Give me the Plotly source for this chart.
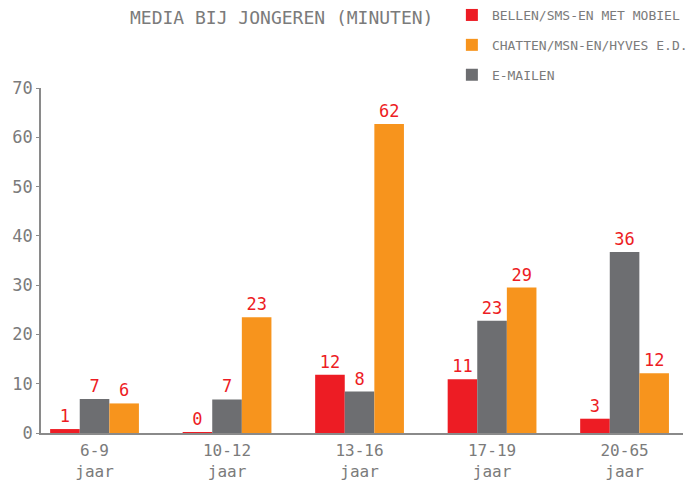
import plotly.graph_objects as go

categories = ["6-9<br>jaar", "10-12<br>jaar", "13-16<br>jaar", "17-19<br>jaar", "20-65<br>jaar"]
bellen = [0.8, 0.1, 11.8, 10.9, 2.9]
bellen_lbl = ["1", "0", "12", "11", "3"]
email = [6.9, 6.8, 8.4, 22.8, 36.7]
email_lbl = ["7", "7", "8", "23", "36"]
chatten = [6.0, 23.5, 62.7, 29.5, 12.1]
chatten_lbl = ["6", "23", "62", "29", "12"]
y_ticks = [0, 10, 20, 30, 40, 50, 60, 70]

RED = "#ed1c24"
ORANGE = "#f7941d"
GRAY = "#6d6e71"
TXT = "#7b7b7b"
FONT = "DejaVu Sans Mono"

fig = go.Figure()
fig.add_trace(go.Bar(x=categories, y=bellen, name="BELLEN/SMS-EN MET MOBIEL", marker_color=RED,
                     text=bellen_lbl, legendrank=1, legendgroup="a"))
fig.add_trace(go.Bar(x=categories, y=email, name="E-MAILEN", marker_color=GRAY,
                     text=email_lbl, legendrank=3, legendgroup="c"))
fig.add_trace(go.Bar(x=categories, y=chatten, name="CHATTEN/MSN-EN/HYVES E.D.", marker_color=ORANGE,
                     text=chatten_lbl, legendrank=2, legendgroup="b"))
fig.update_traces(textposition="outside", cliponaxis=False, marker_line_width=0,
                  textfont=dict(family=FONT, size=17, color=RED), hoverinfo="skip")

fig.update_layout(
    width=689, height=481,
    margin=dict(l=41, r=6, t=88, b=48, autoexpand=False),
    paper_bgcolor="white", plot_bgcolor="white",
    barmode="group", bargap=0.33, bargroupgap=0,
    font=dict(family=FONT, color=TXT),
    title=dict(text="MEDIA BIJ JONGEREN (MINUTEN)", x=130/689, xanchor="left", xref="container",
               y=1-18/481, yanchor="middle", font=dict(family=FONT, size=18, color=TXT)),
    legend=dict(x=0.640, xanchor="left", y=1.006, yref="container", yanchor="top",
                font=dict(family=FONT, size=13, color=TXT), tracegroupgap=10,
                bgcolor="rgba(0,0,0,0)"),
    xaxis=dict(range=[-0.404, 4.441], showgrid=False, showline=True, linecolor="#8a8a8a", linewidth=2,
               ticks="", tickfont=dict(family=FONT, size=16, color=TXT), fixedrange=True, zeroline=False,
               ticklabelstandoff=2),
    yaxis=dict(range=[0, 70], tickvals=y_ticks, showgrid=False, showline=True, linecolor="#8a8a8a",
               linewidth=1.5, ticks="outside", ticklen=3, tickcolor="#8a8a8a",
               tickfont=dict(family=FONT, size=17, color=TXT), zeroline=False, fixedrange=True),
)
fig.write_html("out.html", config={"displayModeBar": False},
               post_script="document.body.style.margin='0';")
